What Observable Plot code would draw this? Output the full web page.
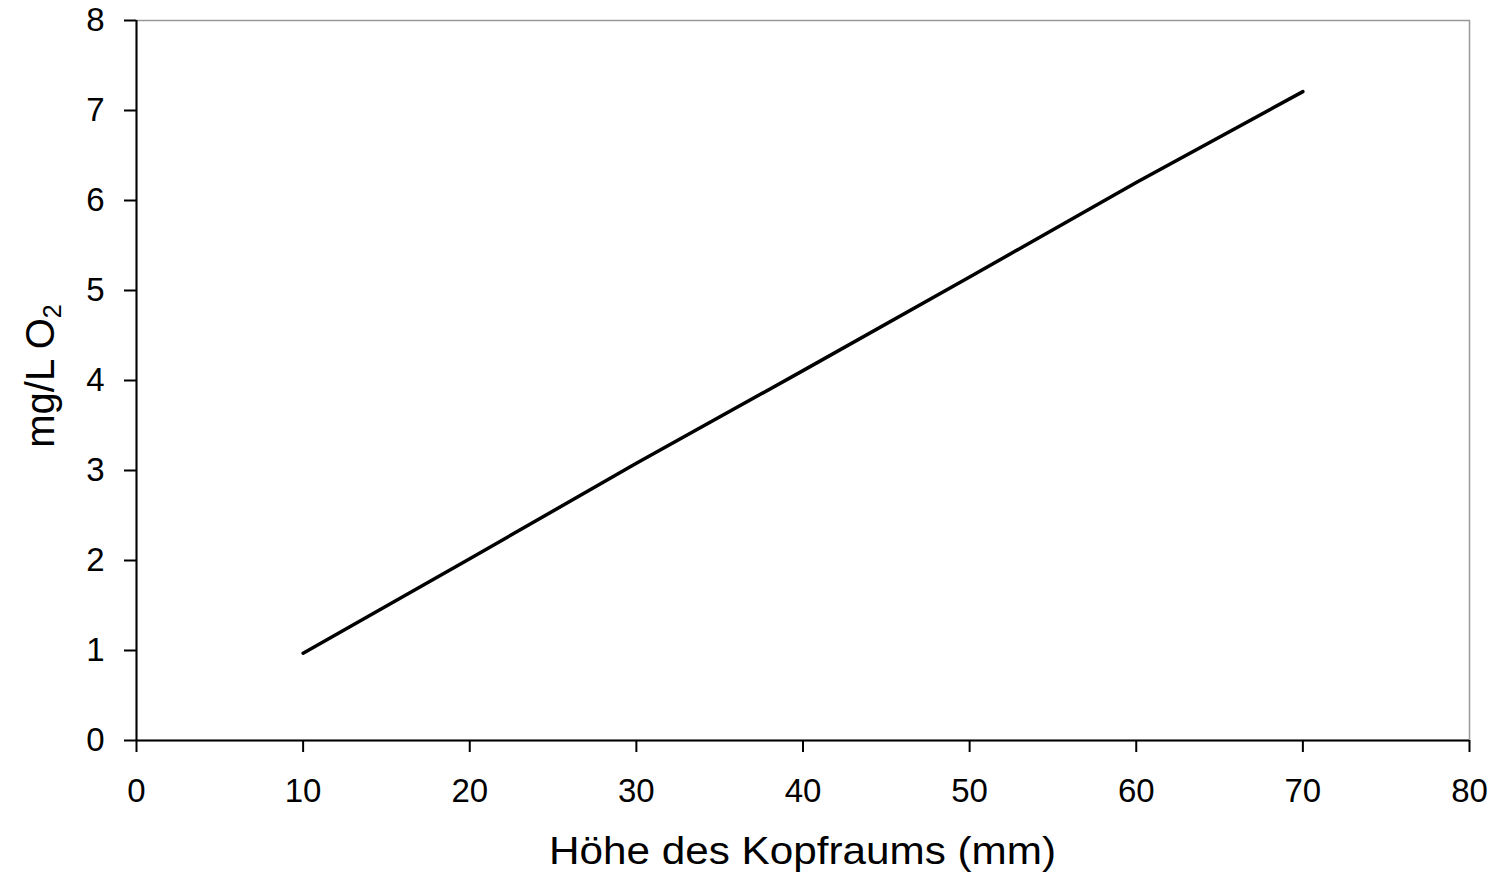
<!DOCTYPE html>
<html>
<head>
<meta charset="utf-8">
<script src="https://cdn.jsdelivr.net/npm/d3@7"></script>
<script src="https://cdn.jsdelivr.net/npm/@observablehq/plot@0.6"></script>
<style>
  html, body { margin: 0; padding: 0; background: #fff; }
  #chart svg { display: block; }
</style>
</head>
<body>
<div id="chart"></div>
<script>
// Headspace height (mm) and dissolved oxygen (mg/L O2)
const headspace = [10, 20, 30, 40, 50, 60, 70];
const oxygen = [0.97, 2.02, 3.08, 4.11, 5.15, 6.2, 7.21];
const xTicks = [0, 10, 20, 30, 40, 50, 60, 70, 80];
const yTicks = [0, 1, 2, 3, 4, 5, 6, 7, 8];

const data = headspace.map((h, i) => ({h, o: oxygen[i]}));

const W = 1499, H = 872;
const mL = 136, mR = 30, mT = 20, mB = 132;

const plot = Plot.plot({
  width: W,
  height: H,
  marginLeft: mL,
  marginRight: mR,
  marginTop: mT,
  marginBottom: mB,
  style: {fontFamily: "Liberation Sans, Arial, sans-serif", fontSize: "33px", color: "#000", background: "#fff"},
  x: {domain: [0, 80], ticks: xTicks, label: null},
  y: {domain: [0, 8], ticks: yTicks, label: null},
  marks: [
    Plot.frame({stroke: "#999", strokeWidth: 1.5}),
    Plot.axisX({ticks: xTicks, tickSize: 12, tickPadding: 26, tickFormat: d => d, label: null, strokeWidth: 2, fontSize: 33}),
    Plot.axisY({ticks: yTicks, tickSize: 12, tickPadding: 20, tickFormat: d => d, label: null, strokeWidth: 2, fontSize: 33}),
    Plot.ruleX([0], {stroke: "#000", strokeWidth: 2}),
    Plot.ruleY([0], {stroke: "#000", strokeWidth: 2}),
    Plot.line(data, {x: "h", y: "o", stroke: "#000", strokeWidth: 3.5})
  ]
});

const svg = d3.select(plot);

// x-axis title
svg.append("text")
  .attr("x", mL + (W - mL - mR) / 2)
  .attr("y", 864)
  .attr("text-anchor", "middle")
  .attr("font-size", 39)
  .attr("textLength", 507)
  .attr("lengthAdjust", "spacingAndGlyphs")
  .attr("fill", "#000")
  .text("Höhe des Kopfraums (mm)");

// y-axis title with subscript
const yt = svg.append("text")
  .attr("transform", `translate(54,${mT + (H - mT - mB) / 2 - 4}) rotate(-90)`)
  .attr("text-anchor", "middle")
  .attr("font-size", 40)
  .attr("fill", "#000");
yt.append("tspan").text("mg/L O");
yt.append("tspan").attr("font-size", 25).attr("dy", 7).text("2");

document.getElementById("chart").appendChild(plot);
</script>
</body>
</html>
